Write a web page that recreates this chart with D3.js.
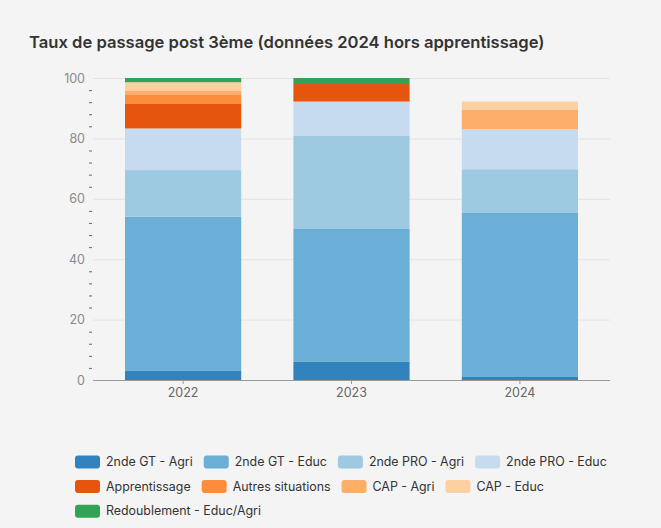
<!DOCTYPE html>
<html>
<head>
<meta charset="utf-8">
<script src="https://cdn.jsdelivr.net/npm/d3@7"></script>
<style>
  html, body { margin: 0; padding: 0; background: #f4f4f4; }
  svg { display: block; }
</style>
</head>
<body>
<div id="chart"></div>
<script>
// data
var years = ['2022', '2023', '2024'];
var seriesNames = ['2nde GT - Agri', '2nde GT - Educ', '2nde PRO - Agri', '2nde PRO - Educ',
  'Apprentissage', 'Autres situations', 'CAP - Agri', 'CAP - Educ', 'Redoublement - Educ/Agri'];
var gtAgri      = [3.0, 6.0, 1.0];
var gtEduc      = [51.1, 44.0, 54.3];
var proAgri     = [15.4, 30.8, 14.5];
var proEduc     = [13.8, 11.4, 13.3];
var apprent     = [8.3, 5.8, 0];
var autres      = [3.0, 0, 0];
var capAgri     = [1.3, 0, 6.5];
var capEduc     = [2.7, 0, 2.6];
var redoublement = [1.4, 2.0, 0];
var yTicks = [0, 20, 40, 60, 80, 100];

var seriesValues = [gtAgri, gtEduc, proAgri, proEduc, apprent, autres, capAgri, capEduc, redoublement];
// category20c look
var colors = ['#3182bd', '#6baed6', '#9ecae1', '#c6dbef', '#e6550d', '#fd8d3c', '#fdae6b', '#fdd0a2', '#31a354'];

var attrs = {
  width: 661,
  height: 528,
  marginLeft: 93,
  marginRight: 51,
  marginTop: 78,
  plotBottom: 380,
  fontFamily: 'Inter, "Noto Sans", sans-serif'
};

// rows for the stack
var table = years.map(function (y, i) {
  var row = { year: y };
  seriesNames.forEach(function (s, j) { row[s] = seriesValues[j][i]; });
  return row;
});
var stacked = d3.stack().keys(seriesNames)(table);

var svg = d3.select('#chart').append('svg')
  .attr('width', attrs.width)
  .attr('height', attrs.height)
  .style('font-family', attrs.fontFamily);

// title
svg.append('text')
  .attr('x', 29).attr('y', 48)
  .attr('fill', '#333')
  .attr('font-size', 16.6)
  .attr('font-weight', 600)
  .text('Taux de passage post 3ème (données 2024 hors apprentissage)');

var x = d3.scaleBand()
  .domain(years)
  .range([attrs.marginLeft, attrs.width - attrs.marginRight])
  .paddingInner(0.31)
  .paddingOuter(0.19);

var y = d3.scaleLinear()
  .domain([0, 100])
  .range([attrs.plotBottom, attrs.marginTop]);

// gridlines
svg.append('g').selectAll('line')
  .data(yTicks.filter(function (d) { return d > 0; }))
  .enter().append('line')
  .attr('x1', attrs.marginLeft).attr('x2', attrs.width - attrs.marginRight)
  .attr('y1', function (d) { return y(d) + 0.5; })
  .attr('y2', function (d) { return y(d) + 0.5; })
  .attr('stroke', '#e4e4e4');

// y axis labels + minor ticks
var yAxis = d3.axisLeft(y).tickValues(yTicks).tickSize(0).tickPadding(8);
var yg = svg.append('g')
  .attr('transform', 'translate(' + attrs.marginLeft + ',0)')
  .call(yAxis);
yg.select('.domain').remove();
yg.selectAll('text').attr('fill', '#8a8a8a').attr('font-size', 12.5).style('font-family', attrs.fontFamily);

var minor = d3.range(0, 100, 4).filter(function (d) { return d % 20 !== 0; });
svg.append('g').selectAll('line')
  .data(minor)
  .enter().append('line')
  .attr('x1', attrs.marginLeft - 4).attr('x2', attrs.marginLeft - 1)
  .attr('y1', function (d) { return y(d) + 0.5; })
  .attr('y2', function (d) { return y(d) + 0.5; })
  .attr('stroke', '#666');

// bars
svg.append('g').selectAll('g')
  .data(stacked)
  .enter().append('g')
  .attr('fill', function (d, i) { return colors[i]; })
  .selectAll('rect')
  .data(function (d) { return d; })
  .enter().append('rect')
  .attr('x', function (d) { return x(d.data.year); })
  .attr('width', x.bandwidth())
  .attr('y', function (d) { return y(d[1]); })
  .attr('height', function (d) { return y(d[0]) - y(d[1]); });

// x axis
var xAxis = d3.axisBottom(x).tickSize(4).tickPadding(4);
var xg = svg.append('g')
  .attr('transform', 'translate(0,' + attrs.plotBottom + ')')
  .call(xAxis);
xg.select('.domain')
  .attr('d', 'M' + attrs.marginLeft + ',0.5H' + (attrs.width - attrs.marginRight))
  .attr('stroke', '#999');
xg.selectAll('.tick line').attr('stroke', '#999');
xg.selectAll('text').attr('fill', '#666').attr('font-size', 12.5).style('font-family', attrs.fontFamily);

// legend, flowing 4 per row
var legend = svg.append('g').style('font-family', attrs.fontFamily);
var lx = 75, ly = 462, perRow = 4;
seriesNames.forEach(function (name, i) {
  if (i > 0 && i % perRow === 0) { lx = 75; ly += 24.6; }
  var item = legend.append('g').attr('transform', 'translate(' + lx + ',' + ly + ')');
  item.append('rect')
    .attr('x', 0).attr('y', -6.5)
    .attr('width', 25).attr('height', 13)
    .attr('rx', 3)
    .attr('fill', colors[i]);
  var t = item.append('text')
    .attr('x', 31).attr('y', 4.2)
    .attr('fill', '#333')
    .attr('font-size', 12.4)
    .text(name);
  lx += 31 + t.node().getComputedTextLength() + 11;
});
</script>
</body>
</html>
